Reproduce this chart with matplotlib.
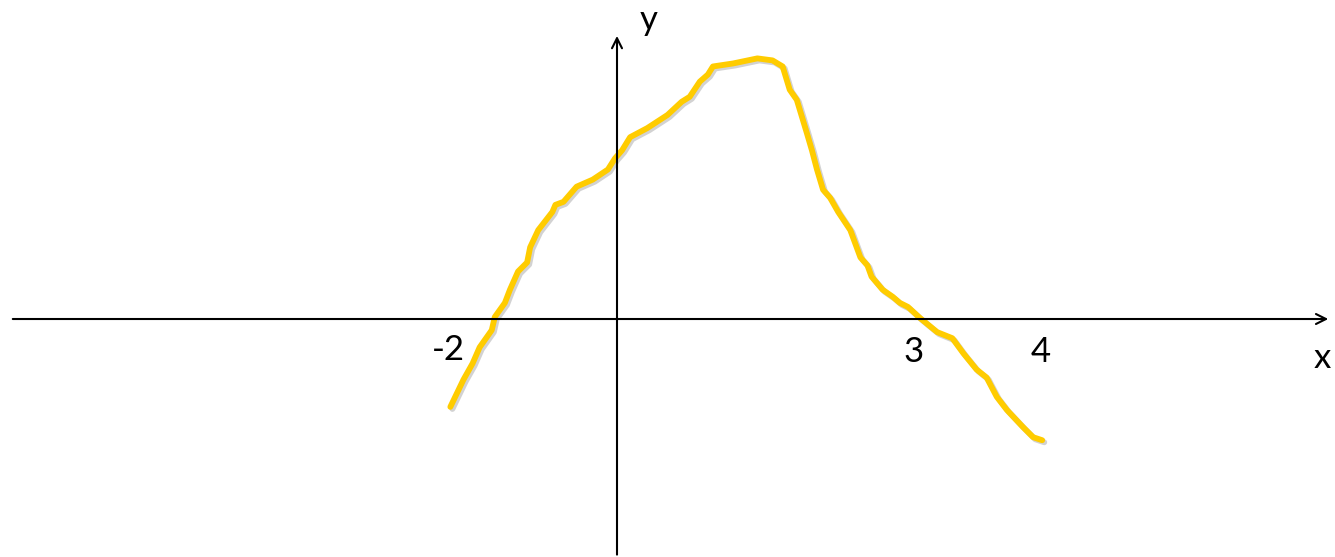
import matplotlib
matplotlib.use('Agg')
import matplotlib.pyplot as plt
import matplotlib.patheffects as pe

# hand drawn curve (1 unit ~ 101 px)
curve_x = [-1.65, -1.52, -1.43, -1.36, -1.24, -1.21, -1.11, -1.06, -0.98, -0.89,
           -0.86, -0.78, -0.64, -0.61, -0.53, -0.40, -0.24, -0.09, -0.02, 0.05,
           0.13, 0.30, 0.50, 0.64, 0.72, 0.82, 0.90, 0.95, 1.15, 1.39,
           1.54, 1.64, 1.71, 1.78, 1.88, 1.93, 1.98, 2.04, 2.11, 2.19,
           2.31, 2.41, 2.48, 2.52, 2.63, 2.73, 2.80, 2.88, 3.00, 3.17,
           3.32, 3.43, 3.56, 3.66, 3.76, 3.86, 4.02, 4.12, 4.21]
curve_y = [-0.87, -0.60, -0.44, -0.28, -0.11, 0.02, 0.16, 0.29, 0.47, 0.56,
           0.71, 0.88, 1.06, 1.13, 1.16, 1.31, 1.38, 1.48, 1.59, 1.67,
           1.80, 1.89, 2.02, 2.15, 2.20, 2.35, 2.42, 2.50, 2.53, 2.58,
           2.56, 2.50, 2.27, 2.17, 1.84, 1.67, 1.48, 1.28, 1.20, 1.06,
           0.88, 0.61, 0.53, 0.42, 0.29, 0.22, 0.16, 0.12, 0.01, -0.13,
           -0.19, -0.34, -0.50, -0.58, -0.77, -0.90, -1.07, -1.17, -1.20]

tick_labels = ['-2', '3', '4']
tick_pos = [(-1.67, -0.31), (2.94, -0.33), (4.20, -0.33)]

plt.rcParams['font.family'] = ['Lato', 'DejaVu Sans']
fig = plt.figure(figsize=(13.35, 5.57), dpi=100)
ax = fig.add_axes([0, 0, 1, 1])
ax.set_xlim(-6.109, 7.109)
ax.set_ylim(-2.356, 3.158)
ax.axis('off')

# axes with arrows
ax.annotate('', xy=(7.07, 0), xytext=(-6.01, 0),
            arrowprops=dict(arrowstyle='->', color='black', lw=1.5, mutation_scale=18))
ax.annotate('', xy=(0, 2.83), xytext=(0, -2.36),
            arrowprops=dict(arrowstyle='->', color='black', lw=1.5, mutation_scale=18))

ax.plot(curve_x, curve_y, color='#FFCC00', lw=4.2, solid_capstyle='round',
        solid_joinstyle='round',
        path_effects=[pe.SimpleLineShadow(offset=(1.5, -1.5), shadow_color='gray', alpha=0.35),
                      pe.Normal()])

for lab, (tx, ty) in zip(tick_labels, tick_pos):
    ax.text(tx, ty, lab, fontsize=25, ha='center', va='center')
ax.text(6.98, -0.39, 'x', fontsize=25, ha='center', va='center')
ax.text(0.31, 2.96, 'y', fontsize=25, ha='center', va='center')

plt.savefig('out.png', dpi=100)
plt.close()
